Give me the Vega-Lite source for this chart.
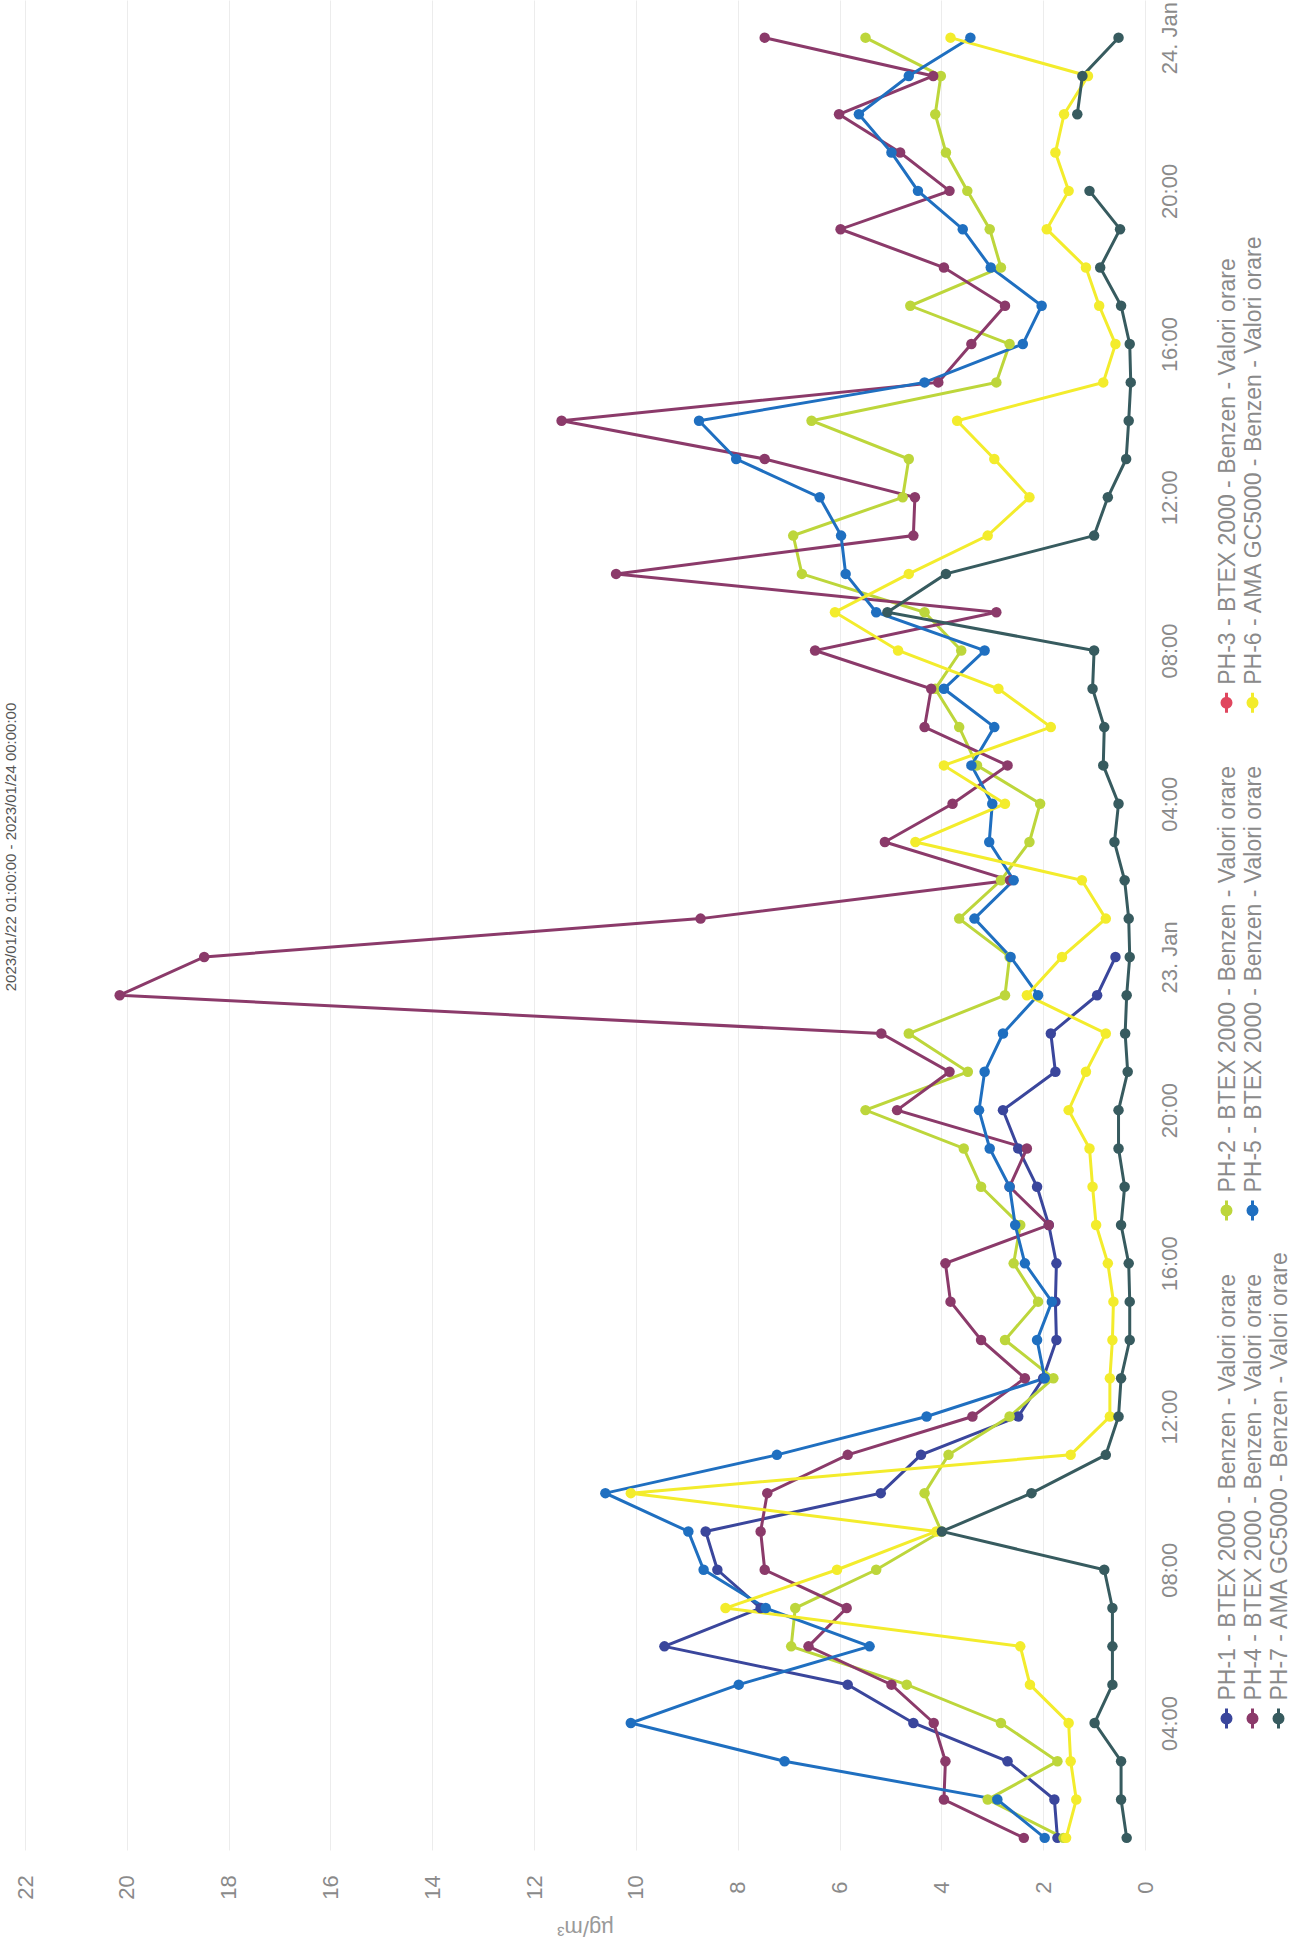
{
  "$schema": "https://vega.github.io/schema/vega-lite/v6.json",
  "width": 1120,
  "height": 1850,
  "autosize": {"type": "none"},
  "padding": {"left": 25, "top": 0, "right": 157, "bottom": 102},
  "background": "white",
  "title": {"text": "2023/01/22 01:00:00 - 2023/01/24 00:00:00", "orient": "left", "anchor": "middle", "offset": -5, "dx": 78, "fontSize": 15, "font": "Liberation Sans", "fontWeight": "normal", "color": "#555555"},
  "config": {"view": {"stroke": null}, "font": "Liberation Sans"},
  "data": {"values": [
    {"series":"PH-1","time":"2023-01-22T01:00","value":1.72},
    {"series":"PH-1","time":"2023-01-22T02:00","value":1.78},
    {"series":"PH-1","time":"2023-01-22T03:00","value":2.70},
    {"series":"PH-1","time":"2023-01-22T04:00","value":4.55},
    {"series":"PH-1","time":"2023-01-22T05:00","value":5.84},
    {"series":"PH-1","time":"2023-01-22T06:00","value":9.44},
    {"series":"PH-1","time":"2023-01-22T07:00","value":7.55},
    {"series":"PH-1","time":"2023-01-22T08:00","value":8.40},
    {"series":"PH-1","time":"2023-01-22T09:00","value":8.63},
    {"series":"PH-1","time":"2023-01-22T10:00","value":5.19},
    {"series":"PH-1","time":"2023-01-22T11:00","value":4.40},
    {"series":"PH-1","time":"2023-01-22T12:00","value":2.49},
    {"series":"PH-1","time":"2023-01-22T13:00","value":2.00},
    {"series":"PH-1","time":"2023-01-22T14:00","value":1.74},
    {"series":"PH-1","time":"2023-01-22T15:00","value":1.76},
    {"series":"PH-1","time":"2023-01-22T16:00","value":1.74},
    {"series":"PH-1","time":"2023-01-22T17:00","value":1.89},
    {"series":"PH-1","time":"2023-01-22T18:00","value":2.12},
    {"series":"PH-1","time":"2023-01-22T19:00","value":2.49},
    {"series":"PH-1","time":"2023-01-22T20:00","value":2.79},
    {"series":"PH-1","time":"2023-01-22T21:00","value":1.76},
    {"series":"PH-1","time":"2023-01-22T22:00","value":1.85},
    {"series":"PH-1","time":"2023-01-22T23:00","value":0.94},
    {"series":"PH-1","time":"2023-01-23T00:00","value":0.58},

    {"series":"PH-2","time":"2023-01-22T01:00","value":1.60},
    {"series":"PH-2","time":"2023-01-22T02:00","value":3.09},
    {"series":"PH-2","time":"2023-01-22T03:00","value":1.72},
    {"series":"PH-2","time":"2023-01-22T04:00","value":2.83},
    {"series":"PH-2","time":"2023-01-22T05:00","value":4.68},
    {"series":"PH-2","time":"2023-01-22T06:00","value":6.95},
    {"series":"PH-2","time":"2023-01-22T07:00","value":6.87},
    {"series":"PH-2","time":"2023-01-22T08:00","value":5.28},
    {"series":"PH-2","time":"2023-01-22T09:00","value":4.00},
    {"series":"PH-2","time":"2023-01-22T10:00","value":4.33},
    {"series":"PH-2","time":"2023-01-22T11:00","value":3.86},
    {"series":"PH-2","time":"2023-01-22T12:00","value":2.66},
    {"series":"PH-2","time":"2023-01-22T13:00","value":1.80},
    {"series":"PH-2","time":"2023-01-22T14:00","value":2.75},
    {"series":"PH-2","time":"2023-01-22T15:00","value":2.10},
    {"series":"PH-2","time":"2023-01-22T16:00","value":2.58},
    {"series":"PH-2","time":"2023-01-22T17:00","value":2.45},
    {"series":"PH-2","time":"2023-01-22T18:00","value":3.22},
    {"series":"PH-2","time":"2023-01-22T19:00","value":3.56},
    {"series":"PH-2","time":"2023-01-22T20:00","value":5.49},
    {"series":"PH-2","time":"2023-01-22T21:00","value":3.48},
    {"series":"PH-2","time":"2023-01-22T22:00","value":4.64},
    {"series":"PH-2","time":"2023-01-22T23:00","value":2.75},
    {"series":"PH-2","time":"2023-01-23T00:00","value":2.66},
    {"series":"PH-2","time":"2023-01-23T01:00","value":3.65},
    {"series":"PH-2","time":"2023-01-23T02:00","value":2.83},
    {"series":"PH-2","time":"2023-01-23T03:00","value":2.27},
    {"series":"PH-2","time":"2023-01-23T04:00","value":2.06},
    {"series":"PH-2","time":"2023-01-23T05:00","value":3.30},
    {"series":"PH-2","time":"2023-01-23T06:00","value":3.65},
    {"series":"PH-2","time":"2023-01-23T07:00","value":4.12},
    {"series":"PH-2","time":"2023-01-23T08:00","value":3.61},
    {"series":"PH-2","time":"2023-01-23T09:00","value":4.33},
    {"series":"PH-2","time":"2023-01-23T10:00","value":6.74},
    {"series":"PH-2","time":"2023-01-23T11:00","value":6.91},
    {"series":"PH-2","time":"2023-01-23T12:00","value":4.76},
    {"series":"PH-2","time":"2023-01-23T13:00","value":4.64},
    {"series":"PH-2","time":"2023-01-23T14:00","value":6.55},
    {"series":"PH-2","time":"2023-01-23T15:00","value":2.92},
    {"series":"PH-2","time":"2023-01-23T16:00","value":2.66},
    {"series":"PH-2","time":"2023-01-23T17:00","value":4.61},
    {"series":"PH-2","time":"2023-01-23T18:00","value":2.83},
    {"series":"PH-2","time":"2023-01-23T19:00","value":3.05},
    {"series":"PH-2","time":"2023-01-23T20:00","value":3.49},
    {"series":"PH-2","time":"2023-01-23T21:00","value":3.91},
    {"series":"PH-2","time":"2023-01-23T22:00","value":4.12},
    {"series":"PH-2","time":"2023-01-23T23:00","value":4.01},
    {"series":"PH-2","time":"2023-01-24T00:00","value":5.49},

    {"series":"PH-4","time":"2023-01-22T01:00","value":2.38},
    {"series":"PH-4","time":"2023-01-22T02:00","value":3.95},
    {"series":"PH-4","time":"2023-01-22T03:00","value":3.92},
    {"series":"PH-4","time":"2023-01-22T04:00","value":4.15},
    {"series":"PH-4","time":"2023-01-22T05:00","value":4.98},
    {"series":"PH-4","time":"2023-01-22T06:00","value":6.61},
    {"series":"PH-4","time":"2023-01-22T07:00","value":5.86},
    {"series":"PH-4","time":"2023-01-22T08:00","value":7.47},
    {"series":"PH-4","time":"2023-01-22T09:00","value":7.55},
    {"series":"PH-4","time":"2023-01-22T10:00","value":7.42},
    {"series":"PH-4","time":"2023-01-22T11:00","value":5.84},
    {"series":"PH-4","time":"2023-01-22T12:00","value":3.39},
    {"series":"PH-4","time":"2023-01-22T13:00","value":2.36},
    {"series":"PH-4","time":"2023-01-22T14:00","value":3.22},
    {"series":"PH-4","time":"2023-01-22T15:00","value":3.82},
    {"series":"PH-4","time":"2023-01-22T16:00","value":3.92},
    {"series":"PH-4","time":"2023-01-22T17:00","value":1.89},
    {"series":"PH-4","time":"2023-01-22T18:00","value":2.66},
    {"series":"PH-4","time":"2023-01-22T19:00","value":2.32},
    {"series":"PH-4","time":"2023-01-22T20:00","value":4.87},
    {"series":"PH-4","time":"2023-01-22T21:00","value":3.84},
    {"series":"PH-4","time":"2023-01-22T22:00","value":5.18},
    {"series":"PH-4","time":"2023-01-22T23:00","value":20.14},
    {"series":"PH-4","time":"2023-01-23T00:00","value":18.48},
    {"series":"PH-4","time":"2023-01-23T01:00","value":8.73},
    {"series":"PH-4","time":"2023-01-23T02:00","value":2.65},
    {"series":"PH-4","time":"2023-01-23T03:00","value":5.11},
    {"series":"PH-4","time":"2023-01-23T04:00","value":3.78},
    {"series":"PH-4","time":"2023-01-23T05:00","value":2.70},
    {"series":"PH-4","time":"2023-01-23T06:00","value":4.33},
    {"series":"PH-4","time":"2023-01-23T07:00","value":4.20},
    {"series":"PH-4","time":"2023-01-23T08:00","value":6.48},
    {"series":"PH-4","time":"2023-01-23T09:00","value":2.92},
    {"series":"PH-4","time":"2023-01-23T10:00","value":10.39},
    {"series":"PH-4","time":"2023-01-23T11:00","value":4.55},
    {"series":"PH-4","time":"2023-01-23T12:00","value":4.52},
    {"series":"PH-4","time":"2023-01-23T13:00","value":7.47},
    {"series":"PH-4","time":"2023-01-23T14:00","value":11.46},
    {"series":"PH-4","time":"2023-01-23T15:00","value":4.06},
    {"series":"PH-4","time":"2023-01-23T16:00","value":3.41},
    {"series":"PH-4","time":"2023-01-23T17:00","value":2.75},
    {"series":"PH-4","time":"2023-01-23T18:00","value":3.95},
    {"series":"PH-4","time":"2023-01-23T19:00","value":5.98},
    {"series":"PH-4","time":"2023-01-23T20:00","value":3.84},
    {"series":"PH-4","time":"2023-01-23T21:00","value":4.81},
    {"series":"PH-4","time":"2023-01-23T22:00","value":6.01},
    {"series":"PH-4","time":"2023-01-23T23:00","value":4.16},
    {"series":"PH-4","time":"2023-01-24T00:00","value":7.47},

    {"series":"PH-5","time":"2023-01-22T01:00","value":1.97},
    {"series":"PH-5","time":"2023-01-22T02:00","value":2.90},
    {"series":"PH-5","time":"2023-01-22T03:00","value":7.08},
    {"series":"PH-5","time":"2023-01-22T04:00","value":10.10},
    {"series":"PH-5","time":"2023-01-22T05:00","value":7.98},
    {"series":"PH-5","time":"2023-01-22T06:00","value":5.41},
    {"series":"PH-5","time":"2023-01-22T07:00","value":7.45},
    {"series":"PH-5","time":"2023-01-22T08:00","value":8.67},
    {"series":"PH-5","time":"2023-01-22T09:00","value":8.97},
    {"series":"PH-5","time":"2023-01-22T10:00","value":10.60},
    {"series":"PH-5","time":"2023-01-22T11:00","value":7.23},
    {"series":"PH-5","time":"2023-01-22T12:00","value":4.29},
    {"series":"PH-5","time":"2023-01-22T13:00","value":1.97},
    {"series":"PH-5","time":"2023-01-22T14:00","value":2.12},
    {"series":"PH-5","time":"2023-01-22T15:00","value":1.83},
    {"series":"PH-5","time":"2023-01-22T16:00","value":2.36},
    {"series":"PH-5","time":"2023-01-22T17:00","value":2.55},
    {"series":"PH-5","time":"2023-01-22T18:00","value":2.66},
    {"series":"PH-5","time":"2023-01-22T19:00","value":3.05},
    {"series":"PH-5","time":"2023-01-22T20:00","value":3.26},
    {"series":"PH-5","time":"2023-01-22T21:00","value":3.15},
    {"series":"PH-5","time":"2023-01-22T22:00","value":2.79},
    {"series":"PH-5","time":"2023-01-22T23:00","value":2.10},
    {"series":"PH-5","time":"2023-01-23T00:00","value":2.64},
    {"series":"PH-5","time":"2023-01-23T01:00","value":3.35},
    {"series":"PH-5","time":"2023-01-23T02:00","value":2.58},
    {"series":"PH-5","time":"2023-01-23T03:00","value":3.06},
    {"series":"PH-5","time":"2023-01-23T04:00","value":3.00},
    {"series":"PH-5","time":"2023-01-23T05:00","value":3.41},
    {"series":"PH-5","time":"2023-01-23T06:00","value":2.96},
    {"series":"PH-5","time":"2023-01-23T07:00","value":3.95},
    {"series":"PH-5","time":"2023-01-23T08:00","value":3.15},
    {"series":"PH-5","time":"2023-01-23T09:00","value":5.28},
    {"series":"PH-5","time":"2023-01-23T10:00","value":5.88},
    {"series":"PH-5","time":"2023-01-23T11:00","value":5.97},
    {"series":"PH-5","time":"2023-01-23T12:00","value":6.39},
    {"series":"PH-5","time":"2023-01-23T13:00","value":8.03},
    {"series":"PH-5","time":"2023-01-23T14:00","value":8.76},
    {"series":"PH-5","time":"2023-01-23T15:00","value":4.33},
    {"series":"PH-5","time":"2023-01-23T16:00","value":2.40},
    {"series":"PH-5","time":"2023-01-23T17:00","value":2.03},
    {"series":"PH-5","time":"2023-01-23T18:00","value":3.03},
    {"series":"PH-5","time":"2023-01-23T19:00","value":3.58},
    {"series":"PH-5","time":"2023-01-23T20:00","value":4.46},
    {"series":"PH-5","time":"2023-01-23T21:00","value":4.98},
    {"series":"PH-5","time":"2023-01-23T22:00","value":5.62},
    {"series":"PH-5","time":"2023-01-23T23:00","value":4.64},
    {"series":"PH-5","time":"2023-01-24T00:00","value":3.43},

    {"series":"PH-6","time":"2023-01-22T01:00","value":1.55},
    {"series":"PH-6","time":"2023-01-22T02:00","value":1.35},
    {"series":"PH-6","time":"2023-01-22T03:00","value":1.46},
    {"series":"PH-6","time":"2023-01-22T04:00","value":1.50},
    {"series":"PH-6","time":"2023-01-22T05:00","value":2.26},
    {"series":"PH-6","time":"2023-01-22T06:00","value":2.45},
    {"series":"PH-6","time":"2023-01-22T07:00","value":8.24},
    {"series":"PH-6","time":"2023-01-22T08:00","value":6.05},
    {"series":"PH-6","time":"2023-01-22T09:00","value":4.10},
    {"series":"PH-6","time":"2023-01-22T10:00","value":10.10},
    {"series":"PH-6","time":"2023-01-22T11:00","value":1.46},
    {"series":"PH-6","time":"2023-01-22T12:00","value":0.69},
    {"series":"PH-6","time":"2023-01-22T13:00","value":0.69},
    {"series":"PH-6","time":"2023-01-22T14:00","value":0.64},
    {"series":"PH-6","time":"2023-01-22T15:00","value":0.62},
    {"series":"PH-6","time":"2023-01-22T16:00","value":0.73},
    {"series":"PH-6","time":"2023-01-22T17:00","value":0.96},
    {"series":"PH-6","time":"2023-01-22T18:00","value":1.03},
    {"series":"PH-6","time":"2023-01-22T19:00","value":1.09},
    {"series":"PH-6","time":"2023-01-22T20:00","value":1.50},
    {"series":"PH-6","time":"2023-01-22T21:00","value":1.16},
    {"series":"PH-6","time":"2023-01-22T22:00","value":0.77},
    {"series":"PH-6","time":"2023-01-22T23:00","value":2.32},
    {"series":"PH-6","time":"2023-01-23T00:00","value":1.63},
    {"series":"PH-6","time":"2023-01-23T01:00","value":0.77},
    {"series":"PH-6","time":"2023-01-23T02:00","value":1.24},
    {"series":"PH-6","time":"2023-01-23T03:00","value":4.51},
    {"series":"PH-6","time":"2023-01-23T04:00","value":2.75},
    {"series":"PH-6","time":"2023-01-23T05:00","value":3.95},
    {"series":"PH-6","time":"2023-01-23T06:00","value":1.85},
    {"series":"PH-6","time":"2023-01-23T07:00","value":2.88},
    {"series":"PH-6","time":"2023-01-23T08:00","value":4.85},
    {"series":"PH-6","time":"2023-01-23T09:00","value":6.09},
    {"series":"PH-6","time":"2023-01-23T10:00","value":4.64},
    {"series":"PH-6","time":"2023-01-23T11:00","value":3.09},
    {"series":"PH-6","time":"2023-01-23T12:00","value":2.27},
    {"series":"PH-6","time":"2023-01-23T13:00","value":2.96},
    {"series":"PH-6","time":"2023-01-23T14:00","value":3.69},
    {"series":"PH-6","time":"2023-01-23T15:00","value":0.82},
    {"series":"PH-6","time":"2023-01-23T16:00","value":0.58},
    {"series":"PH-6","time":"2023-01-23T17:00","value":0.90},
    {"series":"PH-6","time":"2023-01-23T18:00","value":1.16},
    {"series":"PH-6","time":"2023-01-23T19:00","value":1.93},
    {"series":"PH-6","time":"2023-01-23T20:00","value":1.50},
    {"series":"PH-6","time":"2023-01-23T21:00","value":1.76},
    {"series":"PH-6","time":"2023-01-23T22:00","value":1.59},
    {"series":"PH-6","time":"2023-01-23T23:00","value":1.12},
    {"series":"PH-6","time":"2023-01-24T00:00","value":3.82},

    {"series":"PH-7","time":"2023-01-22T01:00","value":0.36},
    {"series":"PH-7","time":"2023-01-22T02:00","value":0.47},
    {"series":"PH-7","time":"2023-01-22T03:00","value":0.47},
    {"series":"PH-7","time":"2023-01-22T04:00","value":0.99},
    {"series":"PH-7","time":"2023-01-22T05:00","value":0.64},
    {"series":"PH-7","time":"2023-01-22T06:00","value":0.64},
    {"series":"PH-7","time":"2023-01-22T07:00","value":0.64},
    {"series":"PH-7","time":"2023-01-22T08:00","value":0.80},
    {"series":"PH-7","time":"2023-01-22T09:00","value":3.99},
    {"series":"PH-7","time":"2023-01-22T10:00","value":2.23},
    {"series":"PH-7","time":"2023-01-22T11:00","value":0.77},
    {"series":"PH-7","time":"2023-01-22T12:00","value":0.52},
    {"series":"PH-7","time":"2023-01-22T13:00","value":0.47},
    {"series":"PH-7","time":"2023-01-22T14:00","value":0.30},
    {"series":"PH-7","time":"2023-01-22T15:00","value":0.30},
    {"series":"PH-7","time":"2023-01-22T16:00","value":0.32},
    {"series":"PH-7","time":"2023-01-22T17:00","value":0.47},
    {"series":"PH-7","time":"2023-01-22T18:00","value":0.40},
    {"series":"PH-7","time":"2023-01-22T19:00","value":0.52},
    {"series":"PH-7","time":"2023-01-22T20:00","value":0.52},
    {"series":"PH-7","time":"2023-01-22T21:00","value":0.34},
    {"series":"PH-7","time":"2023-01-22T22:00","value":0.39},
    {"series":"PH-7","time":"2023-01-22T23:00","value":0.36},
    {"series":"PH-7","time":"2023-01-23T00:00","value":0.30},
    {"series":"PH-7","time":"2023-01-23T01:00","value":0.32},
    {"series":"PH-7","time":"2023-01-23T02:00","value":0.40},
    {"series":"PH-7","time":"2023-01-23T03:00","value":0.60},
    {"series":"PH-7","time":"2023-01-23T04:00","value":0.52},
    {"series":"PH-7","time":"2023-01-23T05:00","value":0.82},
    {"series":"PH-7","time":"2023-01-23T06:00","value":0.80},
    {"series":"PH-7","time":"2023-01-23T07:00","value":1.03},
    {"series":"PH-7","time":"2023-01-23T08:00","value":1.00},
    {"series":"PH-7","time":"2023-01-23T09:00","value":5.06},
    {"series":"PH-7","time":"2023-01-23T10:00","value":3.91},
    {"series":"PH-7","time":"2023-01-23T11:00","value":1.00},
    {"series":"PH-7","time":"2023-01-23T12:00","value":0.73},
    {"series":"PH-7","time":"2023-01-23T13:00","value":0.37},
    {"series":"PH-7","time":"2023-01-23T14:00","value":0.32},
    {"series":"PH-7","time":"2023-01-23T15:00","value":0.28},
    {"series":"PH-7","time":"2023-01-23T16:00","value":0.30},
    {"series":"PH-7","time":"2023-01-23T17:00","value":0.47},
    {"series":"PH-7","time":"2023-01-23T18:00","value":0.88},
    {"series":"PH-7","time":"2023-01-23T19:00","value":0.49},
    {"series":"PH-7","time":"2023-01-23T20:00","value":1.09},
    {"series":"PH-7","time":"2023-01-23T21:00","value":null},
    {"series":"PH-7","time":"2023-01-23T22:00","value":1.33},
    {"series":"PH-7","time":"2023-01-23T23:00","value":1.23},
    {"series":"PH-7","time":"2023-01-24T00:00","value":0.52}
  ]},
  "encoding": {
    "x": {"field": "value", "type": "quantitative",
      "scale": {"domain": [0, 22], "reverse": true, "nice": false},
      "axis": {"orient": "bottom", "values": [0,2,4,6,8,10,12,14,16,18,20,22], "labelAngle": -90, "labelAlign": "center", "labelBaseline": "middle", "labelPadding": 37, "ticks": false, "tickSize": 0, "domain": false, "grid": true, "gridColor": "#ececec", "gridWidth": 1, "labelFontSize": 22, "labelFont": "Liberation Sans", "labelColor": "#8a8a8a", "title": "µg/m³", "titleAngle": 180, "titleBaseline": "bottom", "titlePadding": 16, "titleFontSize": 22, "titleFont": "Liberation Sans", "titleFontWeight": "normal", "titleColor": "#9a9a9a"}},
    "y": {"field": "time", "type": "temporal",
      "scale": {"domain": [{"year": 2023, "month": 1, "date": 22, "hours": 0, "minutes": 41}, {"year": 2023, "month": 1, "date": 24, "hours": 0, "minutes": 59}]},
      "axis": {"orient": "right", "values": [
          {"year": 2023, "month": 1, "date": 22, "hours": 4},
          {"year": 2023, "month": 1, "date": 22, "hours": 8},
          {"year": 2023, "month": 1, "date": 22, "hours": 12},
          {"year": 2023, "month": 1, "date": 22, "hours": 16},
          {"year": 2023, "month": 1, "date": 22, "hours": 20},
          {"year": 2023, "month": 1, "date": 23, "hours": 0},
          {"year": 2023, "month": 1, "date": 23, "hours": 4},
          {"year": 2023, "month": 1, "date": 23, "hours": 8},
          {"year": 2023, "month": 1, "date": 23, "hours": 12},
          {"year": 2023, "month": 1, "date": 23, "hours": 16},
          {"year": 2023, "month": 1, "date": 23, "hours": 20},
          {"year": 2023, "month": 1, "date": 24, "hours": 0}],
        "labelExpr": "hours(datum.value) == 0 ? timeFormat(datum.value, '%d. %b') : timeFormat(datum.value, '%H:%M')",
        "labelAngle": -90, "labelAlign": "center", "labelBaseline": "middle", "labelPadding": 24, "ticks": false, "tickSize": 0, "domain": false, "grid": false, "title": null, "labelFontSize": 22, "labelFont": "Liberation Sans", "labelColor": "#8a8a8a"}},
    "color": {"field": "series", "type": "nominal",
      "scale": {"domain": ["PH-3", "PH-6", " ", "PH-2", "PH-5", "  ", "PH-1", "PH-4", "PH-7"],
                "range": ["#e0465e", "#f3ec2c", "transparent", "#bdd63b", "#1f6fc0", "transparent", "#3a469c", "#8b3a6a", "#375b5f"]},
      "legend": {"orient": "none", "legendX": 1190, "legendY": 691, "direction": "horizontal", "columns": 3, "gridAlign": "all", "rowPadding": 22, "columnPadding": 0, "padding": 0, "title": null,
        "labelFont": "Liberation Sans", "labelFontSize": 23, "labelColor": "#8a8a8a", "labelLimit": 0, "labelOffset": -10,
        "symbolType": "M0,-1L0,1M-0.45,0A0.45,0.45,0,1,1,0.45,0A0.45,0.45,0,1,1,-0.45,0Z", "symbolSize": 400, "symbolStrokeWidth": 3,
        "labelExpr": "datum.label == 'PH-6' || datum.label == 'PH-7' ? datum.label + ' - AMA GC5000 - Benzen - Valori orare' : (length(datum.label) > 2 ? datum.label + ' - BTEX 2000 - Benzen - Valori orare    ' : '')",
        "encode": {
          "labels": {"update": {"angle": {"value": -90}, "align": {"value": "left"}, "baseline": {"value": "middle"}, "dx": {"value": 18}}},
          "symbols": {"update": {"stroke": {"scale": "color", "field": "value"}, "fill": {"scale": "color", "field": "value"}, "strokeWidth": {"value": 3}, "opacity": {"value": 1}}}
        }}}
  },
  "layer": [
    {"mark": {"type": "line", "strokeWidth": 3, "invalid": "break-paths-filter-domains"},
     "encoding": {"order": {"field": "time", "type": "temporal"}}},
    {"mark": {"type": "point", "filled": true, "size": 110, "opacity": 1, "invalid": "filter"},
     "encoding": {}}
  ]
}
